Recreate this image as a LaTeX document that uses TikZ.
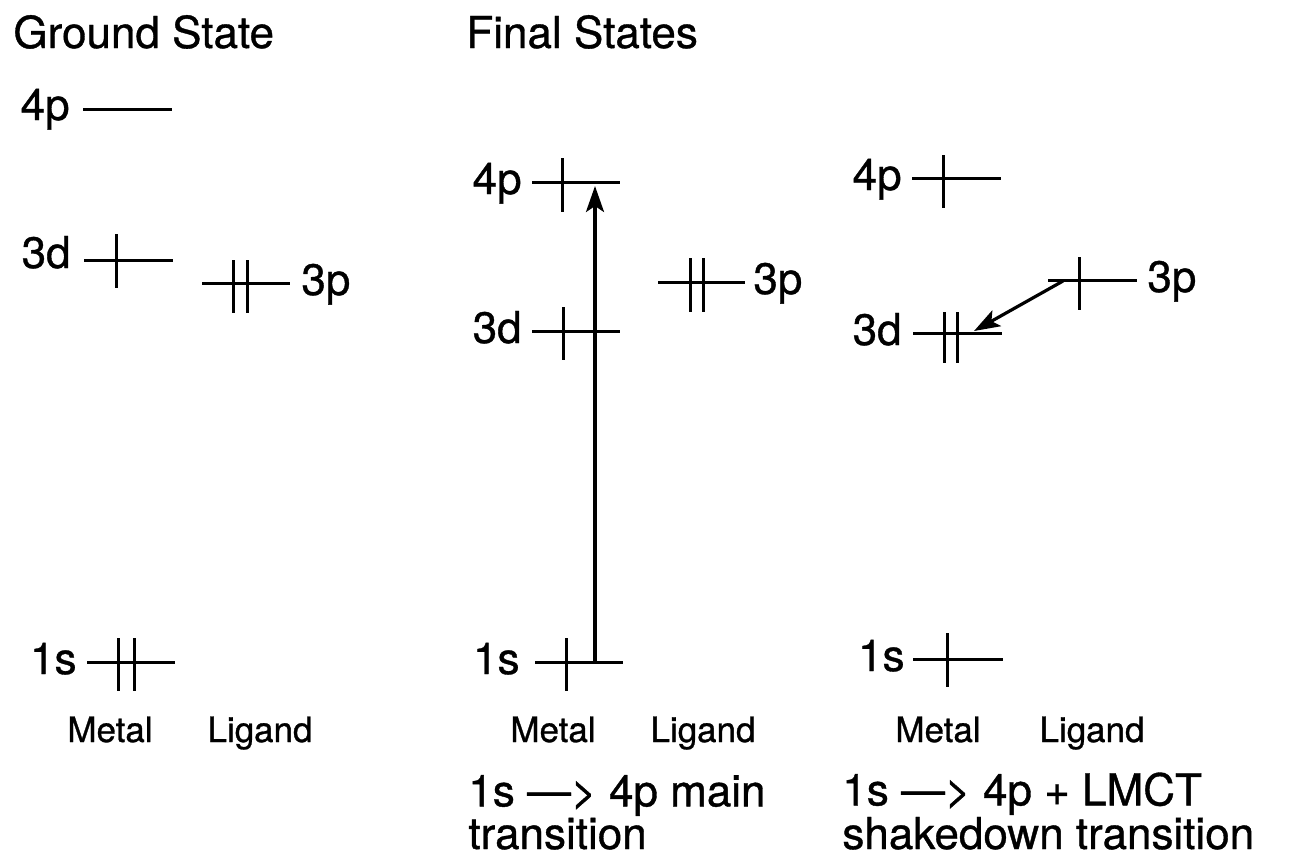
\documentclass[tikz,border=0pt]{standalone}
\usepackage{fontspec}
\setmainfont{TeX Gyre Heros}
\newfontfamily\heavyfont{TeX Gyre Heros}[FakeBold=0.8]
\usetikzlibrary{arrows.meta}
\tikzset{
  big/.style={font=\heavyfont\fontsize{22}{19.5}\selectfont, inner sep=0pt},
  small/.style={font=\heavyfont\fontsize{17.5}{20}\selectfont, inner sep=0pt, anchor=base},
  lvl/.style={line width=1.5pt},
  elec/.style={line width=1.5pt},
  trans/.style={line width=1.6pt, -{Stealth[length=13pt, width=9pt, inset=3pt]}}
}
\begin{document}
\begin{tikzpicture}[x=0.5pt,y=-0.5pt]
\useasboundingbox (0,0) rectangle (1289,859);
% ---------- titles ----------
\node[big, anchor=base west] (tGS) at (13,48) {Ground State};
\node[big, anchor=base west] (tFS) at (466,48) {Final States};

% ---------- Ground state panel ----------
\node[big, anchor=base east] (g4pl) at (70,120) {4p};
\coordinate (g4pa) at (83,109); \coordinate (g4pb) at (172,109);
\draw[lvl] (g4pa) -- (g4pb);

\node[big, anchor=base east] (g3dl) at (71,268) {3d};
\coordinate (g3da) at (84,260); \coordinate (g3db) at (173,260);
\draw[lvl] (g3da) -- (g3db);
\draw[elec] (116,234) -- (116,288);

\coordinate (g3pa) at (202,283); \coordinate (g3pb) at (290,283);
\draw[lvl] (g3pa) -- (g3pb);
\draw[elec] (233,260) -- (233,313);
\draw[elec] (247,260) -- (247,313);
\node[big, anchor=base west] (g3pl) at (301,295) {3p};

\node[big, anchor=base east] (g1sl) at (77,674) {1s};
\coordinate (g1sa) at (87,662); \coordinate (g1sb) at (175,662);
\draw[lvl] (g1sa) -- (g1sb);
\draw[elec] (118,638) -- (118,691);
\draw[elec] (134,638) -- (134,691);

\node[small] (gM) at (110,742) {Metal};
\node[small] (gL) at (260,742) {Ligand};

% ---------- Main transition panel ----------
\node[big, anchor=base east] (m4pl) at (522,194) {4p};
\coordinate (m4pa) at (532,182); \coordinate (m4pb) at (620,182);
\draw[lvl] (m4pa) -- (m4pb);
\draw[elec] (562,158) -- (562,212);

\node[big, anchor=base east] (m3dl) at (522,343) {3d};
\coordinate (m3da) at (532,331); \coordinate (m3db) at (620,331);
\draw[lvl] (m3da) -- (m3db);
\draw[elec] (563,307) -- (563,360);

\coordinate (m3pa) at (658,282); \coordinate (m3pb) at (745,282);
\draw[lvl] (m3pa) -- (m3pb);
\draw[elec] (690,258) -- (690,312);
\draw[elec] (703,258) -- (703,312);
\node[big, anchor=base west] (m3pl) at (753,294) {3p};

\node[big, anchor=base east] (m1sl) at (520,674) {1s};
\coordinate (m1sa) at (535,662); \coordinate (m1sb) at (623,662);
\draw[lvl] (m1sa) -- (m1sb);
\draw[elec] (566,638) -- (566,691);

\coordinate (mfrom) at (595,662); \coordinate (mto) at (595,186);
\draw[trans] (mfrom) -- (mto);

\node[small] (mM) at (553,742) {Metal};
\node[small] (mL) at (703,742) {Ligand};
\node[big, anchor=base west, align=left] (mcap) at (468,849) {1s —> 4p main\\transition};

% ---------- Shakedown panel ----------
\node[big, anchor=base east] (s4pl) at (902,190) {4p};
\coordinate (s4pa) at (912,178); \coordinate (s4pb) at (1001,178);
\draw[lvl] (s4pa) -- (s4pb);
\draw[elec] (943,155) -- (943,208);

\coordinate (s3pa) at (1048,280); \coordinate (s3pb) at (1137,280);
\draw[lvl] (s3pa) -- (s3pb);
\draw[elec] (1079,257) -- (1079,310);
\node[big, anchor=base west] (s3pl) at (1147,292) {3p};

\node[big, anchor=base east] (s3dl) at (902,345) {3d};
\coordinate (s3da) at (913,333); \coordinate (s3db) at (1002,333);
\draw[lvl] (s3da) -- (s3db);
\draw[elec] (944,312) -- (944,363);
\draw[elec] (957,312) -- (957,363);

\coordinate (sfrom) at (1063,281); \coordinate (sto) at (974,331);
\draw[trans] (sfrom) -- (sto);

\node[big, anchor=base east] (s1sl) at (905,671) {1s};
\coordinate (s1sa) at (913,659); \coordinate (s1sb) at (1003,659);
\draw[lvl] (s1sa) -- (s1sb);
\draw[elec] (947,633) -- (947,687);

\node[small] (sM) at (938,742) {Metal};
\node[small] (sL) at (1092,742) {Ligand};
\node[big, anchor=base west, align=left] (scap) at (842,849) {1s —> 4p + LMCT\\shakedown transition};
\end{tikzpicture}
\end{document}
